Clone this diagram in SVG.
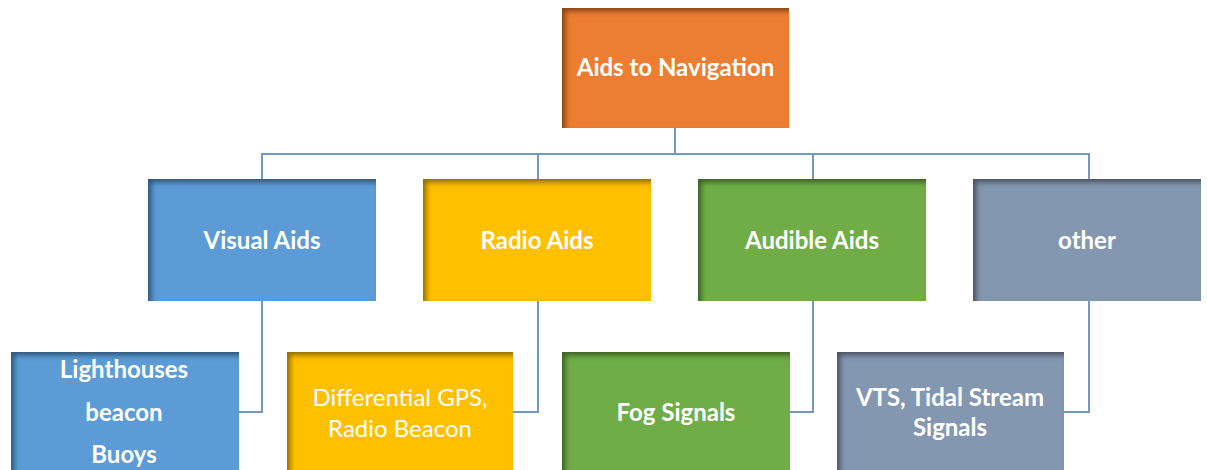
<svg xmlns="http://www.w3.org/2000/svg" width="1207" height="470" viewBox="0 0 1207 470">
  <style>
    .box { filter: url(#inset); }
    .orange { fill: #ED7D31; }
    .blue { fill: #5B9BD5; }
    .gold { fill: #FFC000; }
    .green { fill: #70AD47; }
    .slate { fill: #8497B0; }
    .lbl { font-family: Lato, "Open Sans", "Liberation Sans", sans-serif; font-size: 24px; font-weight: bold; fill: #ffffff; text-anchor: middle; }
    .reg { font-weight: normal; }
    .conn { fill: none; stroke: #7398c5; stroke-width: 2; }
  </style>
  <defs>
    <!-- darkened top and left edges inside each box -->
    <filter id="inset" x="-10%" y="-10%" width="120%" height="120%">
      <feFlood flood-color="#000000" flood-opacity="0.7"/>
      <feComposite in2="SourceAlpha" operator="out"/>
      <feGaussianBlur stdDeviation="2.5"/>
      <feOffset dx="4" dy="4"/>
      <feComposite in2="SourceAlpha" operator="in" result="shade"/>
      <feMerge>
        <feMergeNode in="SourceGraphic"/>
        <feMergeNode in="shade"/>
      </feMerge>
    </filter>
  </defs>

  <rect width="1207" height="470" fill="#ffffff"/>

  <g id="connectors">
    <path class="conn" d="M675 128 V154" stroke="#527fb0"/>
    <path class="conn" d="M262 179 V154 H1089 V179"/>
    <path class="conn" d="M538 154 V179"/>
    <path class="conn" d="M813 154 V179"/>
    <path class="conn" d="M262 301 V412 H239"/>
    <path class="conn" d="M538 301 V412 H513"/>
    <path class="conn" d="M813 301 V412 H790"/>
    <path class="conn" d="M1089 301 V412 H1064"/>
  </g>

  <g id="aids-to-navigation">
    <rect class="box orange" x="562" y="8" width="227" height="120"/>
    <text class="lbl" x="675.5" y="76">Aids to Navigation</text>
  </g>

  <g id="visual-aids">
    <rect class="box blue" x="148" y="179" width="228" height="122"/>
    <text class="lbl" x="262" y="249">Visual Aids</text>
  </g>
  <g id="radio-aids">
    <rect class="box gold" x="423" y="179" width="228" height="122"/>
    <text class="lbl" x="537" y="249">Radio Aids</text>
  </g>
  <g id="audible-aids">
    <rect class="box green" x="698" y="179" width="228" height="122"/>
    <text class="lbl" x="812" y="249">Audible Aids</text>
  </g>
  <g id="other">
    <rect class="box slate" x="973" y="179" width="228" height="122"/>
    <text class="lbl" x="1087" y="249">other</text>
  </g>

  <g id="lighthouses">
    <rect class="box blue" x="11" y="352" width="228" height="125"/>
    <text class="lbl" x="124" y="378">Lighthouses</text>
    <text class="lbl" x="124" y="421">beacon</text>
    <text class="lbl" x="124" y="463">Buoys</text>
  </g>
  <g id="differential-gps">
    <rect class="box gold" x="287" y="352" width="226" height="125"/>
    <text class="lbl reg" x="400" y="406">Differential GPS,</text>
    <text class="lbl reg" x="400" y="437">Radio Beacon</text>
  </g>
  <g id="fog-signals">
    <rect class="box green" x="562" y="352" width="228" height="125"/>
    <text class="lbl" x="676" y="421">Fog Signals</text>
  </g>
  <g id="vts">
    <rect class="box slate" x="837" y="352" width="227" height="125"/>
    <text class="lbl" x="950" y="406">VTS, Tidal Stream</text>
    <text class="lbl" x="950" y="436">Signals</text>
  </g>
</svg>
